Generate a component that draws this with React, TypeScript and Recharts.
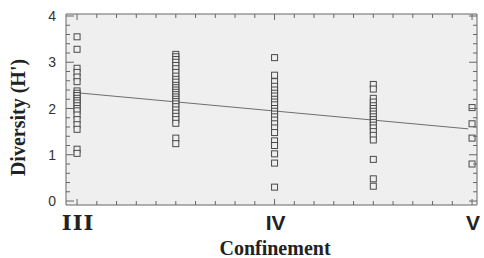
import { ScatterChart, Scatter, XAxis, YAxis, ReferenceArea, Label } from 'recharts'

const W = 484
const H = 258
const MARGIN = { top: 14, right: 7, bottom: 23, left: 36 }
const PLOT_TOP = MARGIN.top
const PLOT_RIGHT = W - MARGIN.right

const BG = '#efefef'
const FRAME = '#666'
const MARK = '#4a4a4a'

// x positions of the sampled groups along the confinement gradient
const groupX = [0, 0.5, 1, 1.5, 2]
const xTickLabels: Record<number, string> = { 0: 'III', 1: 'IV', 2: 'V' }
const yTickLabels = [0, 1, 2, 3, 4]

const groupIII = [3.55, 3.28, 2.87, 2.78, 2.68, 2.58, 2.38, 2.33, 2.28, 2.22, 2.17, 2.12, 2.06, 2.0, 1.95, 1.86, 1.76, 1.65, 1.55, 1.12, 1.03]
const groupIIIb = [3.17, 3.12, 3.06, 3.0, 2.93, 2.86, 2.78, 2.7, 2.63, 2.57, 2.5, 2.45, 2.4, 2.35, 2.3, 2.25, 2.2, 2.15, 2.1, 2.04, 1.97, 1.9, 1.83, 1.76, 1.68, 1.36, 1.24]
const groupIV = [3.1, 2.72, 2.58, 2.48, 2.4, 2.33, 2.27, 2.2, 2.14, 2.08, 2.0, 1.94, 1.88, 1.82, 1.75, 1.67, 1.58, 1.48, 1.3, 1.2, 1.02, 0.82, 0.3]
const groupIVb = [2.52, 2.42, 2.22, 2.14, 2.06, 2.0, 1.94, 1.88, 1.82, 1.76, 1.7, 1.64, 1.58, 1.5, 1.42, 1.32, 0.9, 0.48, 0.32]
const groupV = [2.02, 1.67, 1.36, 0.8]

const trendX = [0, 1.98]
const trendY = [2.34, 1.56]

const X_DOMAIN: [number, number] = [-0.056, 2.025]
const Y_DOMAIN: [number, number] = [-0.086, 4.043]

const xTicks = Array.from({ length: 21 }, (_, i) => i / 10)
const yTicks = Array.from({ length: 21 }, (_, i) => i / 5)

const groups = [groupIII, groupIIIb, groupIV, groupIVb, groupV]
const points = groups.map((vals, gi) => vals.map((v) => ({ x: groupX[gi], y: v })))
const trend = trendX.map((x, i) => ({ x, y: trendY[i] }))

function XTick(props: any) {
  const { x, y, payload } = props
  const v = Math.round(payload.value * 10) / 10
  const major = Number.isInteger(v)
  const len = major ? 6 : 4
  const label = xTickLabels[v]
  const serif = label === 'III'
  return (
    <g>
      <line x1={x} x2={x} y1={y} y2={y - len} stroke={FRAME} />
      <line x1={x} x2={x} y1={PLOT_TOP} y2={PLOT_TOP + len} stroke={FRAME} />
      {label && (
        <text x={x + 1} y={y + 25} textAnchor="middle" fontSize={21} fontWeight="bold" letterSpacing={serif ? 1 : 0}
          fontFamily={serif ? 'DejaVu Serif' : 'Liberation Sans'} fill="#222">{label}</text>
      )}
    </g>
  )
}

function YTick(props: any) {
  const { x, y, payload } = props
  const v = Math.round(payload.value * 5) / 5
  const major = Number.isInteger(v)
  const len = major ? 8 : 4
  return (
    <g>
      <line x1={x} x2={x + len} y1={y} y2={y} stroke={FRAME} />
      <line x1={PLOT_RIGHT} x2={PLOT_RIGHT - len} y1={y} y2={y} stroke={FRAME} />
      {major && yTickLabels.includes(v) && (
        <text x={x - 10} y={y + 5} textAnchor="end" fontSize={14} fontFamily="Liberation Sans" fill="#333">{v}</text>
      )}
    </g>
  )
}

const square = (p: any) => (
  <rect x={p.cx - 3} y={p.cy - 3} width={6} height={6} fill={BG} stroke={MARK} strokeWidth={1} />
)

const YTitle = (props: any) => {
  const vb = props.viewBox
  const cx = vb.x - 18
  const cy = vb.y + vb.height / 2 + 8
  return (
    <text x={cx} y={cy} transform={`rotate(-90 ${cx} ${cy})`} textAnchor="middle" dominantBaseline="central"
      fontSize={20} fontWeight="bold" fontFamily="Liberation Serif" fill="#222">Diversity (H')</text>
  )
}

const XTitle = (props: any) => {
  const vb = props.viewBox
  return (
    <text x={vb.x + 209} y={vb.y + 50} textAnchor="middle" fontSize={20} fontWeight="bold"
      fontFamily="Liberation Serif" fill="#222">Confinement</text>
  )
}

export default function App() {
  return (
    <div style={{ position: 'absolute', left: 0, top: 0, width: W, height: H, background: '#fff' }}>
      <ScatterChart width={W} height={H} margin={MARGIN}>
        <XAxis type="number" dataKey="x" domain={X_DOMAIN} allowDataOverflow ticks={xTicks} interval={0}
          tick={<XTick />} tickSize={0} tickMargin={0} axisLine={false} height={30}>
          <Label content={<XTitle />} />
        </XAxis>
        <YAxis type="number" dataKey="y" domain={Y_DOMAIN} allowDataOverflow ticks={yTicks} interval={0}
          tick={<YTick />} tickSize={0} tickMargin={0} axisLine={false} width={30}>
          <Label content={<YTitle />} />
        </YAxis>
        <ReferenceArea x1={X_DOMAIN[0]} x2={X_DOMAIN[1]} y1={Y_DOMAIN[0]} y2={Y_DOMAIN[1]}
          fill={BG} fillOpacity={1} stroke={FRAME} strokeWidth={1} />
        <Scatter data={trend} line={{ stroke: '#6e6e6e', strokeWidth: 1 }} shape={() => <g />} isAnimationActive={false} />
        {points.map((pts, i) => (
          <Scatter key={i} data={pts} shape={square} isAnimationActive={false} />
        ))}
      </ScatterChart>
    </div>
  )
}
